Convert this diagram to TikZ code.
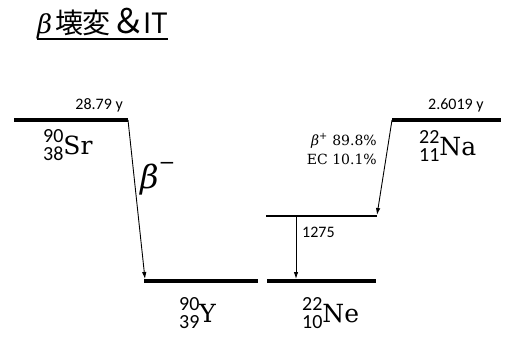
\documentclass[tikz,border=0pt]{standalone}
\usepackage{fontspec}
\usetikzlibrary{arrows.meta}
\newfontfamily\cjkfont{Noto Sans CJK JP}
\newfontfamily\labfont{Carlito}
\newfontfamily\serfont{DejaVu Serif}
\newcommand\fs[1]{\fontsize{#1}{#1}\selectfont}
\newcommand\nucl[3]{{\labfont\fs{20}\raisebox{12pt}{#1}\llap{\raisebox{-6.5pt}{#2}}}{\serfont\fs{25}#3}}
\begin{document}
\begin{tikzpicture}[x=1pt,y=-1pt,
  level/.style={line width=4pt},
  exlevel/.style={line width=1.3pt},
  trans/.style={line width=0.9pt,-{Latex[length=7pt,width=4.5pt]}},
  lab/.style={inner sep=0pt,font=\labfont\fs{16}},
  serlab/.style={inner sep=0pt,font=\serfont\fs{14},anchor=base east},
  nucname/.style={inner sep=0pt,anchor=base west},
]
\useasboundingbox (0,0) rectangle (510,351);
% title
\node[inner sep=0pt,anchor=base west] (title) at (37,33)
  {{\serfont\itshape\fs{26}\makebox[18pt][l]{β}}{\cjkfont\fs{28}\makebox[27pt][l]{壊}\makebox[29pt][l]{変}{\fs{34}\makebox[32pt][l]{＆}}IT}};
\draw[line width=1.5pt] ([yshift=-6pt]title.base west) -- ([yshift=-6pt]title.base east);
% level coordinates
\coordinate (sra) at (14,120);  \coordinate (srb) at (128,120);
\coordinate (naa) at (392,120); \coordinate (nab) at (501,120);
\coordinate (ya)  at (144,281); \coordinate (yb)  at (258,281);
\coordinate (nea) at (267,281); \coordinate (neb) at (376,281);
\coordinate (exa) at (266,216); \coordinate (exb) at (377,216);
\coordinate (ytip) at (145,279);
\coordinate (extip) at (377,215);
\coordinate (gtop) at (296,216);
\coordinate (gtip) at (296,279);
% levels
\draw[level] (sra) -- (srb);
\draw[level] (naa) -- (nab);
\draw[level] (ya) -- (yb);
\draw[level] (nea) -- (neb);
\draw[exlevel] (exa) -- (exb);
% transitions
\draw[trans] (srb) -- (ytip);
\draw[trans] (naa) -- (extip);
\draw[trans] (gtop) -- (gtip);
% half-lives and energies
\node[lab,anchor=base east] (srhl) at (123,109) {28.79 y};
\node[lab,anchor=base west] (nahl) at (428,109) {2.6019 y};
\node[lab,anchor=base west] (gen) at (302,237) {1275};
\node[serlab] (bplus) at (377,145) {{\itshape β}\textsuperscript{+} 89.8\%};
\node[serlab] (ec) at (377,164) {EC 10.1\%};
\node[inner sep=0pt,anchor=base west] (bminus) at (140,188)
  {{\serfont\itshape\fs{32}β}{\serfont\fs{20}\raisebox{19pt}{−}}};
% nuclides
\node[nucname] (sr) at (43,154) {\nucl{90}{38}{Sr}};
\node[nucname] (na) at (419,155) {\nucl{22}{11}{Na}};
\node[nucname] (y) at (179,322) {\nucl{90}{39}{Y}};
\node[nucname] (ne) at (302,322) {\nucl{22}{10}{Ne}};
\end{tikzpicture}
\end{document}
